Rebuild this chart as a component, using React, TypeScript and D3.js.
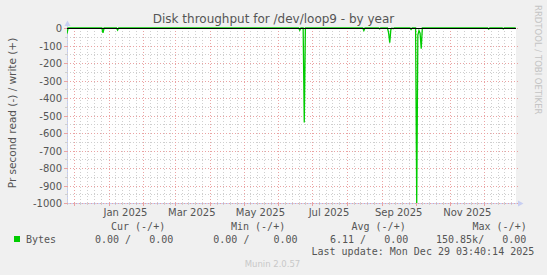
import React from 'react';
import * as d3 from 'd3';

const W = 547;
const H = 275;

// Daily average read throughput (bytes/s, shown negative); write stays at 0.
const readDates = [
  '2024-11-25', '2024-11-26',
  '2024-12-26', '2024-12-27', '2024-12-28',
  '2025-01-08', '2025-01-09', '2025-01-10',
  '2025-06-19', '2025-06-20', '2025-06-21',
  '2025-06-23', '2025-06-24', '2025-06-25',
  '2025-08-15', '2025-08-16', '2025-08-17',
  '2025-08-29', '2025-08-30', '2025-08-31',
  '2025-09-06', '2025-09-07', '2025-09-08', '2025-09-09', '2025-09-10',
  '2025-09-11', '2025-09-12',
  '2025-09-26', '2025-09-27', '2025-09-28',
  '2025-10-01', '2025-10-02', '2025-10-03', '2025-10-04', '2025-10-05', '2025-10-06', '2025-10-07',
  '2025-12-04', '2025-12-05', '2025-12-06',
  '2025-12-17', '2025-12-18', '2025-12-19',
  '2025-12-29',
];
const readValues = [
  -32, 0,
  0, -27, 0,
  0, -12, 0,
  0, -13, 0,
  0, -540, 0,
  0, -15, 0,
  0, -5, 0,
  0, -28, -84, -8, 0,
  -4, 0,
  0, -8, 0,
  0, -1000, -40, -15, -30, -118, 0,
  0, -6, 0,
  0, -5, 0,
  0,
];

const yTicks = [0, -100, -200, -300, -400, -500, -600, -700, -800, -900, -1000];
const yMinor = [-50, -150, -250, -350, -450, -550, -650, -750, -850, -950];

const legendHeaders = ['Cur (-/+)', 'Min (-/+)', 'Avg (-/+)', 'Max (-/+)'];
const legendValues = ['0.00 /   0.00', '0.00 /    0.00', '6.11 /   0.00', '150.85k/   0.00'];
const seriesName = 'Bytes';
const lastUpdate = 'Last update: Mon Dec 29 03:40:14 2025';
const title = 'Disk throughput for /dev/loop9 - by year';
const yTitle = 'Pr second read (-) / write (+)';

const parse = d3.timeParse('%Y-%m-%d');
const fmt = d3.timeFormat('%b %Y');

const X0 = 67;
const X1 = 516;
const Y0 = 28;
const Y1 = 203;

const x = d3
  .scaleTime()
  .domain([new Date(2024, 10, 25, 0), new Date(2025, 11, 29, 7)])
  .range([X0, X1]);
const y = d3.scaleLinear().domain([-1000, 0]).range([Y1, Y0]);

const MAJOR = '#eaa3a3';
const MINOR = '#cfcfcf';
const AXIS = '#c8cff2';
const GREEN = '#00cc00';
const TXT = '#555555';

const pre = { whiteSpace: 'pre' as const };

export default function App() {
  const [d0, d1] = x.domain();
  const months = d3.timeMonth.range(d3.timeMonth.ceil(d0), d1);
  const minor = d3.timeDay
    .every(6)!
    .range(d0, d1)
    .filter((d) => d.getDate() !== 1 && d.getDate() !== 31);
  const labels = d3.timeMonth.every(2)!.range(d0, d1);

  const pts = readDates.map((s, i) => [parse(s)!, readValues[i]] as [Date, number]);
  const line = d3
    .line<[Date, number]>()
    .x((d) => x(d[0]))
    .y((d) => y(d[1]));

  const legX = [111, 231, 351.5, 472.5];
  const valX = [95, 213.3, 330, 436];

  return (
    <svg
      width={W}
      height={H}
      style={{ position: 'absolute', left: 0, top: 0, background: '#f0f0f0' }}
      fontFamily="DejaVu Sans"
    >
      <defs>
        <clipPath id="plot">
          <rect x={X0} y={Y0 - 1} width={X1 - X0 + 1} height={Y1 - Y0 + 2} />
        </clipPath>
      </defs>
      <rect x={0} y={0} width={W} height={H} fill="#f0f0f0" />
      <rect x={X0} y={Y0} width={X1 - X0} height={Y1 - Y0} fill="#ffffff" />

      {/* axes */}
      <line x1={X0 + 0.5} x2={X0 + 0.5} y1={Y1} y2={24} stroke={AXIS} />
      <path d={`M${X0 + 0.5},20.5 L${X0 - 2.5},26 L${X0 + 3.5},26 Z`} fill={AXIS} />
      <line x1={X0} x2={519} y1={Y1 + 0.5} y2={Y1 + 0.5} stroke={AXIS} />
      <path d={`M${523.5},${Y1 + 0.5} L${518},${Y1 - 2.5} L${518},${Y1 + 3.5} Z`} fill={AXIS} />

      {/* minor grid */}
      {minor.map((d, i) => {
        const px = Math.round(x(d)) + 0.5;
        return (
          <g key={'mn' + i}>
            <line x1={px} x2={px} y1={Y0} y2={Y1} stroke={MINOR} strokeDasharray="1,2" />
            <line x1={px} x2={px} y1={Y1} y2={Y1 + 2} stroke={MINOR} />
          </g>
        );
      })}
      {yMinor.map((v) => {
        const py = Math.round(y(v)) + 0.5;
        return (
          <g key={'ym' + v}>
            <line x1={X0} x2={X1} y1={py} y2={py} stroke={MINOR} strokeDasharray="1,2" />
            <line x1={X0 - 2} x2={X0} y1={py} y2={py} stroke={MINOR} />
          </g>
        );
      })}

      {/* major grid */}
      {months.map((d, i) => {
        const px = Math.round(x(d)) + 0.5;
        return (
          <g key={'mj' + i}>
            <line x1={px} x2={px} y1={Y0} y2={Y1} stroke={MAJOR} strokeDasharray="1,2" />
            <line x1={px} x2={px} y1={Y1} y2={Y1 + 3} stroke={MAJOR} />
          </g>
        );
      })}
      {yTicks.map((v) => {
        const py = Math.round(y(v)) + 0.5;
        return (
          <g key={'yt' + v}>
            <line x1={X0} x2={X1 + 2} y1={py} y2={py} stroke={MAJOR} strokeDasharray="1,2" />
            <line x1={X0 - 3} x2={X0} y1={py} y2={py} stroke={MAJOR} />
            <text x={62} y={py} fontSize={10} fill={TXT} textAnchor="end" dominantBaseline="central">
              {v}
            </text>
          </g>
        );
      })}

      {/* x labels */}
      {labels.map((d, i) => (
        <text
          key={'xl' + i}
          x={x(d3.timeDay.offset(d, 15))}
          y={216}
          fontSize={10}
          fill={TXT}
          textAnchor="middle"
        >
          {fmt(d)}
        </text>
      ))}

      {/* series */}
      <g clipPath="url(#plot)">
        <line x1={X0} x2={X1} y1={y(0) + 0.5} y2={y(0) + 0.5} stroke={GREEN} />
        <path d={line(pts) ?? ''} fill="none" stroke={GREEN} strokeWidth={1.3} />
        <line x1={X0} x2={X1} y1={Y0 + 0.5} y2={Y0 + 0.5} stroke="#000000" />
      </g>

      {/* title and axis titles */}
      <text x={273.5} y={22.5} fontSize={12} fill={TXT} textAnchor="middle">
        {title}
      </text>
      <text
        transform={`translate(16,113) rotate(-90)`}
        fontSize={10.5}
        fill={TXT}
        textAnchor="middle"
      >
        {yTitle}
      </text>
      <text transform="translate(534.5,5) rotate(90)" fontSize={8.5} fill="#c4c4c4">
        RRDTOOL / TOBI OETIKER
      </text>

      {/* legend */}
      <g fontFamily="DejaVu Sans Mono" fontSize={10} fill={TXT}>
        {legendHeaders.map((h, i) => (
          <text key={'lh' + i} x={legX[i]} y={230} xmlSpace="preserve" style={pre}>
            {h}
          </text>
        ))}
        <rect x={14} y={236} width={6} height={6} fill={GREEN} />
        <text x={26} y={242.5}>
          {seriesName}
        </text>
        {legendValues.map((v, i) => (
          <text key={'lv' + i} x={valX[i]} y={242.5} xmlSpace="preserve" style={pre}>
            {v}
          </text>
        ))}
        <text x={311.5} y={254.7} xmlSpace="preserve" style={pre}>
          {lastUpdate}
        </text>
      </g>
      <text x={272.5} y={266.5} fontSize={8.5} fill="#c8c8c8" textAnchor="middle">
        Munin 2.0.57
      </text>
    </svg>
  );
}
